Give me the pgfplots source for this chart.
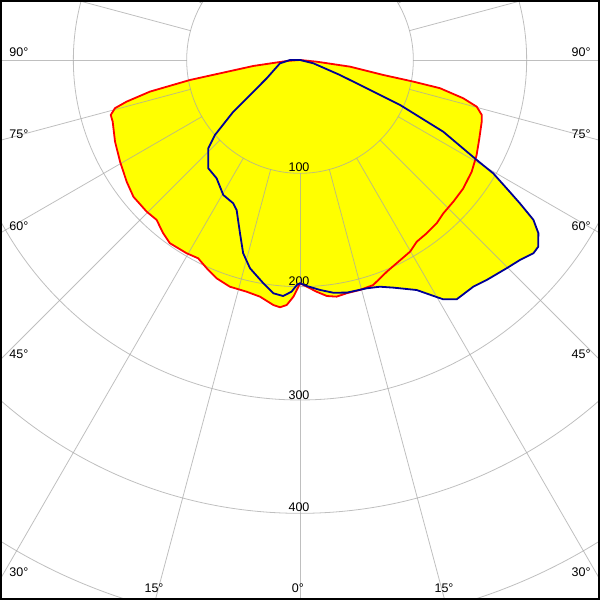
\documentclass[border=0pt]{standalone}
\usepackage{pgfplots}
\usepackage{pgfplotstable}
\pgfplotsset{compat=1.18}
\usepackage{fontspec}
\setmainfont{Liberation Sans}
\definecolor{curvered}{RGB}{255,0,0}
\definecolor{curveblue}{RGB}{0,0,150}
\definecolor{fillyellow}{RGB}{255,255,0}
\definecolor{gridc}{RGB}{167,167,167}
\tikzset{
  gridline/.style={gridc, opacity=0.72, line width=0.8pt},
  lab/.style={font=\fontsize{12.5}{14}\selectfont, inner sep=0pt, anchor=center},
}

% C0-C180 plane (red): gamma (deg, negative = left), intensity (cd)
\pgfplotstableread{
g I
-90 0
-85.7 11.8
-82.7 41.5
-79.7 98.7
-78.1 135.3
-76.5 157.3
-75.4 168.7
-73.8 173.9
-71.8 174.0
-66.2 178.4
-60.5 182.4
-54.9 186.9
-50.6 190.2
-45.3 190.3
-41.9 189.5
-38.3 194.8
-35.4 198.3
-30.4 197.7
-27.2 196.7
-24.1 201.4
-20.9 206.2
-17.2 209.4
-13.0 209.8
-9.6 211.8
-6.2 217.5
-4.6 218.9
-3.1 216.5
-1.6 209.0
-0.4 200.0
0 197.0
1.7 200.1
4.1 205.0
6.5 209.6
8.8 211.3
11.3 209.9
14.6 209.7
18.0 208.8
22.3 201.9
25.4 198.6
29.9 195.0
32.7 190.6
36.2 189.4
39.9 187.9
43.1 185.2
47.3 184.2
51.8 183.3
57.0 180.7
61.7 177.0
66.4 172.7
71.3 169.3
73.2 167.5
75.2 161.3
76.8 148.0
78.6 126.0
79.2 101.8
79.8 74.7
82.4 44.5
84.2 14.8
90 0
}\redtab

% C90-C270 plane (blue)
\pgfplotstableread{
g I
-90 0
-90 8.8
-80.6 17.9
-61.2 33.5
-55.8 49.8
-52.2 74.5
-48.6 100.0
-46.1 112.3
-40.3 125.2
-35.2 127.7
-29.6 137.0
-25.0 139.5
-22.9 143.7
-19.1 161.8
-16.4 177.7
-13.5 189.0
-9.3 199.7
-6.5 207.2
-4.1 208.8
-2.1 204.6
-0.8 198.6
0 197.0
1.7 199.5
5.0 203.7
8.1 207.4
11.4 209.4
16.3 209.9
19.4 212.1
22.3 217.1
26.9 227.6
29.5 239.2
30.9 246.1
33.2 252.4
37.4 251.8
40.3 254.6
44.8 258.9
47.7 262.3
50.4 267.4
51.9 267.1
54.0 260.0
55.6 249.6
56.9 231.6
58.0 216.6
59.6 197.7
60.5 179.2
63.4 141.4
65.8 96.8
67.0 63.9
69.4 37.7
76.1 12.1
90 0
}\bluetab

\begin{document}
\begin{tikzpicture}
\begin{axis}[
  width=600pt, height=600pt, scale only axis,
  xmin=-264.71, xmax=264.71, ymin=-476.47, ymax=52.94,
  hide axis, clip=true,
]
% yellow fills
\addplot[draw=none, fill=fillyellow] table[x expr={\thisrow{I}*sin(\thisrow{g})}, y expr={-\thisrow{I}*cos(\thisrow{g})}] {\redtab} -- cycle;
\addplot[draw=none, fill=fillyellow] table[x expr={\thisrow{I}*sin(\thisrow{g})}, y expr={-\thisrow{I}*cos(\thisrow{g})}] {\bluetab} -- cycle;
% grid
\pgfplotsinvokeforeach{100,200,300,400,500,600}{
  \draw[gridline] (axis cs:0,0) circle[radius=#1];
}
\pgfplotsinvokeforeach{0,15,...,345}{
  \draw[gridline] (axis cs:{100*sin(#1)},{-100*cos(#1)}) -- (axis cs:{900*sin(#1)},{-900*cos(#1)});
}
% labels
\node[lab] at (axis cs:-248,6.6) {90°};
\node[lab] at (axis cs:-248,-65.3) {75°};
\node[lab] at (axis cs:-248,-146.5) {60°};
\node[lab] at (axis cs:-248,-259.4) {45°};
\node[lab] at (axis cs:-248,-452.2) {30°};
\node[lab] at (axis cs:-128.8,-465.9) {15°};
\node[lab] at (axis cs:-1.8,-465.9) {0°};
\node[lab] at (axis cs:127.1,-465.9) {15°};
\node[lab] at (axis cs:248,-452.2) {30°};
\node[lab] at (axis cs:248,-259.4) {45°};
\node[lab] at (axis cs:248,-146.5) {60°};
\node[lab] at (axis cs:248,-65.3) {75°};
\node[lab] at (axis cs:248,6.6) {90°};
\node[lab] at (axis cs:-0.9,-94.9) {100};
\node[lab] at (axis cs:-0.9,-195.0) {200};
\node[lab] at (axis cs:-0.9,-295.6) {300};
\node[lab] at (axis cs:-0.9,-394.9) {400};
% curves
\addplot[curvered, line width=1.8pt, line join=round] table[x expr={\thisrow{I}*sin(\thisrow{g})}, y expr={-\thisrow{I}*cos(\thisrow{g})}] {\redtab};
\addplot[curveblue, line width=1.8pt, line join=round] table[x expr={\thisrow{I}*sin(\thisrow{g})}, y expr={-\thisrow{I}*cos(\thisrow{g})}] {\bluetab};
% frame
\draw[black, line width=2pt] ([shift={(1pt,1pt)}]rel axis cs:0,0) rectangle ([shift={(-1pt,-1pt)}]rel axis cs:1,1);
\coordinate (SW) at (rel axis cs:0,0);
\coordinate (NE) at (rel axis cs:1,1);
\end{axis}
\pgfresetboundingbox
\path (SW) rectangle (NE);
\end{tikzpicture}
\end{document}
